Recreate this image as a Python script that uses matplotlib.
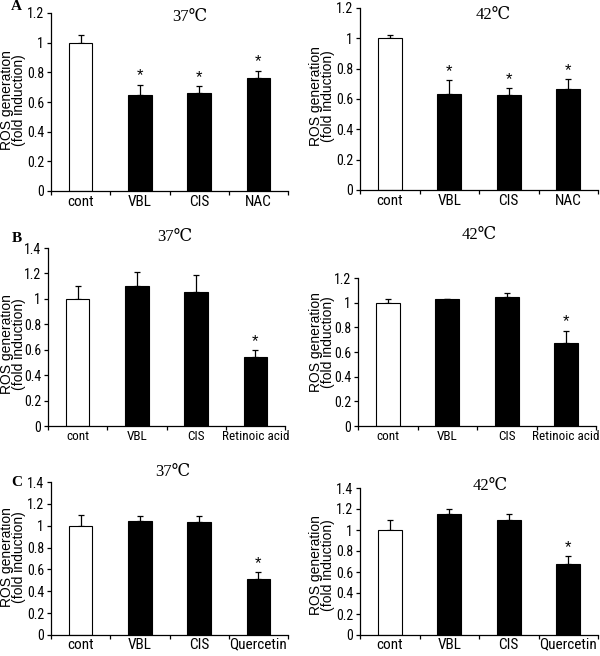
import matplotlib
matplotlib.use('Agg')
import matplotlib.pyplot as plt

# Figure size in pixels (dpi 100)
W, H = 600, 656

# Panel A data
cats_a = ['cont', 'VBL', 'CIS', 'NAC']
a37_vals = [1.0, 0.65, 0.66, 0.76]
a37_err = [0.05, 0.065, 0.045, 0.05]
a42_vals = [1.0, 0.635, 0.625, 0.665]
a42_err = [0.02, 0.09, 0.045, 0.065]
a37_star = [False, True, True, True]
a42_star = [False, True, True, True]

# Panel B data
cats_b = ['cont', 'VBL', 'CIS', 'Retinoic acid']
b37_vals = [1.0, 1.10, 1.055, 0.545]
b37_err = [0.1, 0.115, 0.13, 0.05]
b42_vals = [1.0, 1.027, 1.048, 0.676]
b42_err = [0.03, 0.005, 0.03, 0.095]
b37_star = [False, False, False, True]
b42_star = [False, False, False, True]

# Panel C data
cats_c = ['cont', 'VBL', 'CIS', 'Quercetin']
c37_vals = [1.0, 1.04, 1.03, 0.51]
c37_err = [0.1, 0.05, 0.06, 0.065]
c42_vals = [1.0, 1.15, 1.095, 0.68]
c42_err = [0.1, 0.05, 0.055, 0.07]
c37_star = [False, False, False, True]
c42_star = [False, False, False, True]

# narrow fonts first, Arial-like fallback
TICK_FONT = ['Liberation Sans Narrow', 'Arial Narrow', 'Roboto Condensed',
             'PT Sans Narrow', 'Archivo Narrow', 'Liberation Sans',
             'DejaVu Sans']
SANS_FONT = ['Liberation Sans', 'DejaVu Sans']
SERIF_FONT = ['Liberation Serif', 'DejaVu Serif']

fig = plt.figure(figsize=(W / 100, H / 100), dpi=100)


# Place an axes from pixel coordinates (left, right, top, bottom)
def make_axes(x0, x1, y_top, y_bot):
    return fig.add_axes([x0 / W, 1 - y_bot / H, (x1 - x0) / W,
                         (y_bot - y_top) / H])


# Put text on the figure at pixel coordinates
def fig_text(x, y, s, **kw):
    fig.text(x / W, 1 - y / H, s, ha='center', va='center', **kw)


# Draw one bar panel
def draw_panel(ax, cats, vals, errs, stars, ymax, xpad, xsize):
    pos = [i + 0.5 for i in range(len(cats))]
    colors = ['white'] + ['black'] * (len(cats) - 1)
    ax.bar(pos, vals, width=0.4, color=colors, edgecolor='black',
           linewidth=0.8, zorder=2)
    ax.errorbar(pos, vals, yerr=[[0] * len(vals), errs], fmt='none',
                ecolor='black', elinewidth=0.9, capsize=2, capthick=0.9,
                zorder=1)
    for p, v, e, s in zip(pos, vals, errs, stars):
        if s:
            ax.annotate('*', (p, v + e), xytext=(0, 1),
                        textcoords='offset points', ha='center',
                        va='bottom', fontsize=12, family=SANS_FONT)

    ax.set_xlim(0, len(cats))
    ax.set_ylim(0, ymax)
    ax.spines['top'].set_visible(False)
    ax.spines['right'].set_visible(False)
    for sp in ['left', 'bottom']:
        ax.spines[sp].set_linewidth(0.9)

    # boundary ticks without labels, labels centered under bars
    ax.set_xticks(range(len(cats) + 1))
    ax.set_xticklabels([])
    ax.set_xticks(pos, minor=True)
    ax.set_xticklabels(cats, minor=True, fontsize=xsize, family=TICK_FONT)
    ax.tick_params(axis='x', which='major', direction='out', length=3,
                   width=0.9)
    ax.tick_params(axis='x', which='minor', length=0, pad=xpad)

    yt = [round(0.2 * i, 1) for i in range(int(round(ymax / 0.2)) + 1)]
    ax.set_yticks(yt)
    ax.set_yticklabels(['%g' % t for t in yt], fontsize=10,
                       family=TICK_FONT)
    ax.tick_params(axis='y', direction='out', length=3, width=0.9, pad=2)


panels = [
    # (x0, x1, top, bottom, cats, vals, errs, stars, ymax, xpad, xsize)
    (51, 288, 13, 191, cats_a, a37_vals, a37_err, a37_star, 1.2, 3, 11),
    (360, 598, 8, 190, cats_a, a42_vals, a42_err, a42_star, 1.2, 3, 11),
    (48, 285, 248, 426, cats_b, b37_vals, b37_err, b37_star, 1.4, 3, 9.5),
    (358, 596, 278, 426, cats_b, b42_vals, b42_err, b42_star, 1.2, 3, 9.5),
    (51, 288, 482, 635, cats_c, c37_vals, c37_err, c37_star, 1.4, 2, 11),
    (360, 598, 488, 635, cats_c, c42_vals, c42_err, c42_star, 1.4, 2, 11),
]

for x0, x1, yt_, yb, cats, vals, errs, stars, ymax, xpad, xsize in panels:
    ax = make_axes(x0, x1, yt_, yb)
    draw_panel(ax, cats, vals, errs, stars, ymax, xpad, xsize)

# Y axis labels
ylab = 'ROS generation\n(fold induction)'
for x, y in [(13, 100), (322, 96), (13, 344), (322, 342), (13, 557),
             (322, 565)]:
    fig_text(x, y, ylab, rotation=90, fontsize=10, family=SANS_FONT,
             linespacing=0.75)

# Temperature titles
for x, y, s in [(190, 17, '37\u2103'), (493, 15, '42\u2103'),
                (175, 237, '37\u2103'), (479, 235, '42\u2103'),
                (173, 472, '37\u2103'), (490, 486, '42\u2103')]:
    fig_text(x, y, s, fontsize=12, family=SERIF_FONT)

# Panel letters
for x, y, s in [(16, 7, 'A'), (17, 239, 'B'), (17, 482, 'C')]:
    fig_text(x, y, s, fontsize=11, fontweight='bold', family=SERIF_FONT)

fig.savefig('out.png', dpi=100)
